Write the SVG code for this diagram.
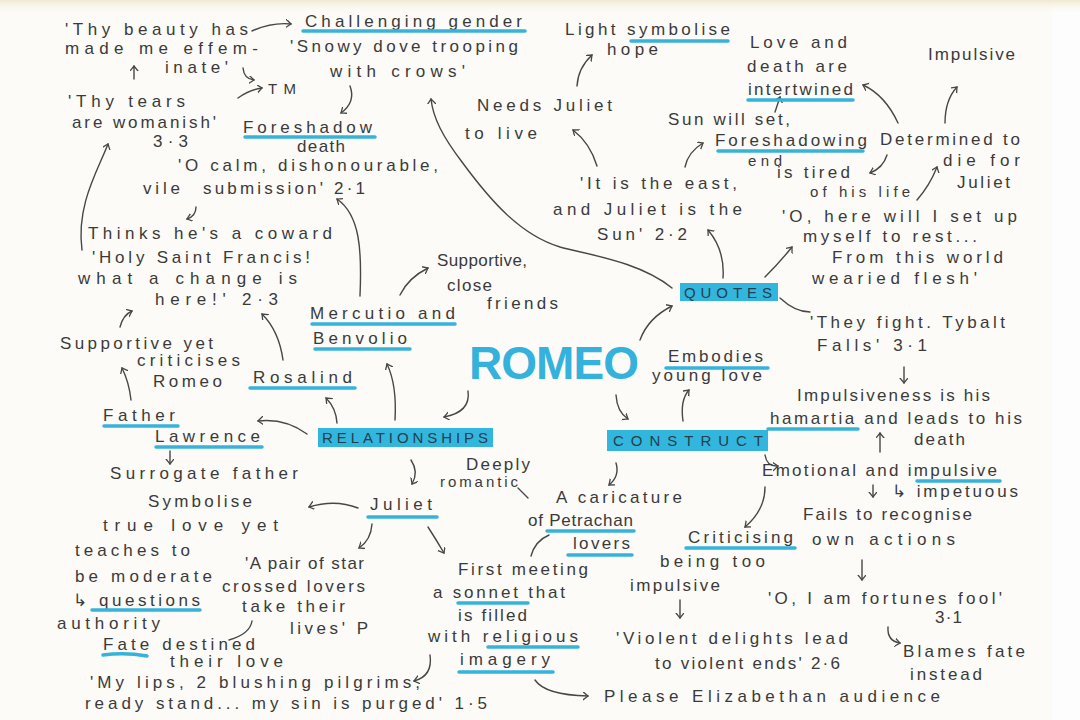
<svg xmlns="http://www.w3.org/2000/svg" width="1080" height="720" viewBox="0 0 1080 720">
<defs>
<style>
.t{font-family:"Liberation Sans","DejaVu Sans",sans-serif;font-size:17px;fill:#3a3a3a}
.s{font-size:15px}
.u{stroke:#36b3da;stroke-width:3.5;stroke-linecap:round;fill:none}
.hl{fill:#33b6dd}
.ht{font-family:"Liberation Sans","DejaVu Sans",sans-serif;font-size:15px;fill:#24404d}
.c{stroke:#474747;stroke-width:1.4;fill:none;stroke-linecap:round;marker-end:url(#ah)}
.c0{stroke:#474747;stroke-width:1.4;fill:none;stroke-linecap:round}
</style>
<marker id="ah" markerWidth="10" markerHeight="10" refX="5" refY="4" orient="auto" markerUnits="userSpaceOnUse"><path d="M0,0 L5,4 L0,8" fill="none" stroke="#474747" stroke-width="1.3" stroke-linecap="round"/></marker>
<linearGradient id="top" x1="0" y1="0" x2="0" y2="1"><stop offset="0" stop-color="#f1e9cf"/><stop offset="1" stop-color="#fcfbf8" stop-opacity="0"/></linearGradient>
</defs>
<rect width="1080" height="720" fill="#fdfdfd"/>
<rect width="1052" height="720" fill="#fcfbf8"/>
<rect width="1080" height="14" fill="url(#top)"/>

<g id="connectors">
<path class="c" d="M252,31 Q272,22 291,24"/>
<path class="c" d="M134,79 L134,66"/>
<path class="c" d="M243,68 Q244,79 254,80"/>
<path class="c" d="M238,98 Q249,90 262,88"/>
<path class="c" d="M350,86 Q356,102 341,113"/>
<path class="c" d="M196,207 Q196,216 187,219"/>
<path class="c" d="M82,250 C76,205 98,170 108,144"/>
<path class="c" d="M360,296 C362,250 360,215 337,199"/>
<path class="c" d="M120,327 Q123,315 132,311"/>
<path class="c" d="M131,400 Q129,382 122,368"/>
<path class="c" d="M283,360 Q279,331 262,314"/>
<path class="c" d="M337,423 Q336,408 326,398"/>
<path class="c" d="M395,420 Q397,385 387,364"/>
<path class="c" d="M307,434 Q285,418 258,421"/>
<path class="c" d="M468,391 Q471,412 444,417"/>
<path class="c" d="M400,295 Q408,278 428,268"/>
<path class="c" d="M170,451 L170,464"/>
<path class="c" d="M358,508 Q335,499 309,507"/>
<path class="c" d="M411,460 Q419,472 412,484"/>
<path class="c" d="M372,524 Q371,540 359,548"/>
<path class="c" d="M428,527 Q437,541 444,553"/>
<path class="c0" d="M252,621 Q250,634 229,640"/>
<path class="c" d="M430,655 Q433,676 414,681"/>
<path class="c0" d="M518,488 L528,498"/>
<path class="c0" d="M549,535 Q535,541 531,556"/>
<path class="c" d="M616,463 Q620,476 609,485"/>
<path class="c" d="M616,395 Q617,412 628,419"/>
<path class="c" d="M683,421 Q680,400 689,390"/>
<path class="c" d="M640,340 Q648,318 672,306"/>
<path class="c" d="M672,288 C640,262 590,255 560,247 C520,235 490,200 462,162 C443,137 433,118 431,99"/>
<path class="c" d="M723,278 Q725,250 708,230"/>
<path class="c" d="M765,277 Q780,262 792,247"/>
<path class="c0" d="M780,298 Q795,312 810,312"/>
<path class="c" d="M597,166 Q590,143 573,130"/>
<path class="c" d="M577,86 Q578,68 592,55"/>
<path class="c" d="M685,167 Q688,152 703,143"/>
<path class="c" d="M775,112 L780,97"/>
<path class="c" d="M898,123 Q885,95 863,85"/>
<path class="c" d="M945,123 Q945,100 957,87"/>
<path class="c" d="M887,155 Q883,168 870,173"/>
<path class="c" d="M917,200 Q930,185 937,167"/>
<path class="c" d="M904,367 L904,383"/>
<path class="c" d="M880,452 L880,433"/>
<path class="c" d="M765,455 Q767,467 778,466"/>
<path class="c" d="M765,487 Q765,510 745,527"/>
<path class="c" d="M873,485 L873,497"/>
<path class="c" d="M862,560 L862,580"/>
<path class="c" d="M888,627 Q887,641 900,643"/>
<path class="c" d="M680,600 L680,618"/>
<path class="c" d="M535,680 Q545,695 588,696"/>
</g>

<g id="romeo">
<text x="469" y="379" textLength="170" lengthAdjust="spacing" style="font-family:'Liberation Sans',sans-serif;font-size:46px;font-weight:bold;fill:#34b2dc">ROMEO</text>
</g>

<g id="relationships">
<rect class="hl" x="318" y="428" width="175" height="19"/>
<text class="ht" x="322" y="443" textLength="166" lengthAdjust="spacing">RELATIONSHIPS</text>
</g>
<g id="construct">
<rect class="hl" x="607" y="430" width="161" height="21"/>
<text class="ht" x="613" y="446" textLength="150" lengthAdjust="spacing">CONSTRUCT</text>
</g>
<g id="quotes">
<rect class="hl" x="680" y="283" width="98" height="18"/>
<text class="ht" x="684" y="298" textLength="88" lengthAdjust="spacing">QUOTES</text>
</g>

<g id="effeminate">
<text class="t" x="65" y="35" textLength="183" lengthAdjust="spacing">'Thy beauty has</text>
<text class="t" x="65" y="54" textLength="193" lengthAdjust="spacing">made me effem-</text>
<text class="t" x="165" y="73" textLength="63" lengthAdjust="spacing">inate'</text>
<text class="t s" x="268" y="94" textLength="28" lengthAdjust="spacing">TM</text>
</g>
<g id="gender">
<text class="t" x="305" y="27" textLength="217" lengthAdjust="spacing">Challenging gender</text>
<path class="u" d="M303,31 L525,31"/>
<text class="t" x="290" y="52" textLength="228" lengthAdjust="spacing">'Snowy dove trooping</text>
<text class="t" x="330" y="77" textLength="135" lengthAdjust="spacing">with crows'</text>
</g>
<g id="tears">
<text class="t" x="68" y="107" textLength="117" lengthAdjust="spacing">'Thy tears</text>
<text class="t" x="72" y="128" textLength="144" lengthAdjust="spacing">are womanish'</text>
<text class="t" x="153" y="147" textLength="35" lengthAdjust="spacing">3·3</text>
</g>
<g id="foreshadow">
<text class="t" x="243" y="133" textLength="129" lengthAdjust="spacing">Foreshadow</text>
<path class="u" d="M245,137 L375,137"/>
<text class="t" x="297" y="152" textLength="48" lengthAdjust="spacing">death</text>
</g>
<g id="calm">
<text class="t" x="178" y="171" textLength="260" lengthAdjust="spacing">'O calm, dishonourable,</text>
<text class="t" x="143" y="194" textLength="37" lengthAdjust="spacing">vile</text>
<text class="t" x="203" y="194" textLength="162" lengthAdjust="spacing">submission' 2·1</text>
</g>
<g id="coward">
<text class="t" x="88" y="239" textLength="244" lengthAdjust="spacing">Thinks he's a coward</text>
</g>
<g id="francis">
<text class="t" x="92" y="263" textLength="218" lengthAdjust="spacing">'Holy Saint Francis!</text>
<text class="t" x="78" y="284" textLength="219" lengthAdjust="spacing">what a change is</text>
<text class="t" x="155" y="305" textLength="123" lengthAdjust="spacing">here!' 2·3</text>
</g>
<g id="supportive-yet">
<text class="t" x="60" y="349" textLength="153" lengthAdjust="spacing">Supportive yet</text>
<text class="t" x="137" y="366" textLength="103" lengthAdjust="spacing">criticises</text>
<text class="t" x="153" y="387" textLength="69" lengthAdjust="spacing">Romeo</text>
</g>
<g id="father-lawrence">
<text class="t" x="103" y="421" textLength="72" lengthAdjust="spacing">Father</text>
<path class="u" d="M104,426 L178,426"/>
<text class="t" x="155" y="442" textLength="105" lengthAdjust="spacing">Lawrence</text>
<path class="u" d="M156,447 L262,447"/>
</g>
<g id="rosalind">
<text class="t" x="253" y="383" textLength="99" lengthAdjust="spacing">Rosalind</text>
<path class="u" d="M250,388 L355,388"/>
</g>
<g id="mercutio">
<text class="t" x="310" y="319" textLength="145" lengthAdjust="spacing">Mercutio and</text>
<path class="u" d="M312,324 L455,324"/>
<text class="t" x="313" y="344" textLength="94" lengthAdjust="spacing">Benvolio</text>
<path class="u" d="M315,349 L410,349"/>
</g>
<g id="friends">
<text class="t" x="437" y="266" textLength="90" lengthAdjust="spacing">Supportive,</text>
<text class="t" x="447" y="291" textLength="45" lengthAdjust="spacing">close</text>
<text class="t" x="487" y="309" textLength="71" lengthAdjust="spacing">friends</text>
</g>
<g id="surrogate">
<text class="t" x="110" y="479" textLength="188" lengthAdjust="spacing">Surrogate father</text>
<text class="t" x="148" y="507" textLength="104" lengthAdjust="spacing">Symbolise</text>
<text class="t" x="103" y="531" textLength="175" lengthAdjust="spacing">true love yet</text>
<text class="t" x="75" y="556" textLength="115" lengthAdjust="spacing">teaches to</text>
<text class="t" x="75" y="582" textLength="137" lengthAdjust="spacing">be moderate</text>
<text class="t" x="73" y="606" textLength="127" lengthAdjust="spacing">↳ questions</text>
<path class="u" d="M92,610 L200,610"/>
<text class="t" x="57" y="629" textLength="103" lengthAdjust="spacing">authority</text>
</g>
<g id="juliet">
<text class="t" x="370" y="510" textLength="62" lengthAdjust="spacing">Juliet</text>
<path class="u" d="M368,517 L437,517"/>
</g>
<g id="star-crossed">
<text class="t" x="245" y="569" textLength="119" lengthAdjust="spacing">'A pair of star</text>
<text class="t" x="222" y="592" textLength="143" lengthAdjust="spacing">crossed lovers</text>
<text class="t" x="242" y="612" textLength="103" lengthAdjust="spacing">take their</text>
<text class="t" x="290" y="634" textLength="78" lengthAdjust="spacing">lives' P</text>
</g>
<g id="fate">
<text class="t" x="103" y="650" textLength="152" lengthAdjust="spacing">Fate destined</text>
<path class="u" d="M103,655 Q125,652 147,656"/>
<text class="t" x="170" y="667" textLength="113" lengthAdjust="spacing">their love</text>
</g>
<g id="lips">
<text class="t" x="90" y="688" textLength="330" lengthAdjust="spacing">'My lips, 2 blushing pilgrims,</text>
<text class="t" x="85" y="709" textLength="402" lengthAdjust="spacing">ready stand... my sin is purged' 1·5</text>
</g>
<g id="deeply">
<text class="t" x="466" y="470" textLength="64" lengthAdjust="spacing">Deeply</text>
<text class="t s" x="440" y="487" textLength="78" lengthAdjust="spacing">romantic</text>
</g>
<g id="first-meeting">
<text class="t" x="458" y="575" textLength="130" lengthAdjust="spacing">First meeting</text>
<text class="t" x="433" y="598" textLength="132" lengthAdjust="spacing">a sonnet that</text>
<path class="u" d="M458,603 L528,603"/>
<text class="t" x="458" y="621" textLength="69" lengthAdjust="spacing">is filled</text>
<text class="t" x="428" y="642" textLength="150" lengthAdjust="spacing">with religious</text>
<path class="u" d="M488,647 L578,647"/>
<text class="t" x="460" y="665" textLength="90" lengthAdjust="spacing">imagery</text>
<path class="u" d="M459,672 L553,672"/>
</g>
<g id="please">
<text class="t" x="604" y="702" textLength="336" lengthAdjust="spacing">Please Elizabethan audience</text>
</g>
<g id="caricature">
<text class="t" x="556" y="503" textLength="126" lengthAdjust="spacing">A caricature</text>
<text class="t" x="528" y="526" textLength="105" lengthAdjust="spacing">of Petrachan</text>
<path class="u" d="M547,531 L634,531"/>
<text class="t" x="573" y="549" textLength="57" lengthAdjust="spacing">lovers</text>
<path class="u" d="M568,555 L632,555"/>
</g>
<g id="embodies">
<text class="t" x="668" y="362" textLength="95" lengthAdjust="spacing">Embodies</text>
<path class="u" d="M666,368 L768,368"/>
<text class="t" x="652" y="381" textLength="110" lengthAdjust="spacing">young love</text>
</g>
<g id="emotional">
<text class="t" x="762" y="476" textLength="235" lengthAdjust="spacing">Emotional and impulsive</text>
<path class="u" d="M917,481 L1000,481"/>
<text class="t" x="892" y="497" textLength="126" lengthAdjust="spacing">↳ impetuous</text>
</g>
<g id="fails">
<text class="t" x="803" y="520" textLength="169" lengthAdjust="spacing">Fails to recognise</text>
<text class="t" x="812" y="545" textLength="143" lengthAdjust="spacing">own actions</text>
</g>
<g id="criticising">
<text class="t" x="688" y="543" textLength="105" lengthAdjust="spacing">Criticising</text>
<path class="u" d="M686,548 L795,548"/>
<text class="t" x="660" y="567" textLength="105" lengthAdjust="spacing">being too</text>
<text class="t" x="630" y="591" textLength="90" lengthAdjust="spacing">impulsive</text>
</g>
<g id="violent">
<text class="t" x="616" y="644" textLength="232" lengthAdjust="spacing">'Violent delights lead</text>
<text class="t" x="655" y="669" textLength="185" lengthAdjust="spacing">to violent ends' 2·6</text>
</g>
<g id="fortunes-fool">
<text class="t" x="768" y="604" textLength="234" lengthAdjust="spacing">'O, I am fortunes fool'</text>
<text class="t" x="935" y="623" textLength="27" lengthAdjust="spacing">3·1</text>
</g>
<g id="blames">
<text class="t" x="903" y="657" textLength="122" lengthAdjust="spacing">Blames fate</text>
<text class="t" x="910" y="680" textLength="72" lengthAdjust="spacing">instead</text>
</g>
<g id="light">
<text class="t" x="565" y="35" textLength="165" lengthAdjust="spacing">Light symbolise</text>
<path class="u" d="M631,41 L728,41"/>
<text class="t" x="607" y="55" textLength="51" lengthAdjust="spacing">hope</text>
</g>
<g id="needs-juliet">
<text class="t" x="477" y="111" textLength="135" lengthAdjust="spacing">Needs Juliet</text>
<text class="t" x="465" y="139" textLength="72" lengthAdjust="spacing">to live</text>
</g>
<g id="east">
<text class="t" x="580" y="189" textLength="157" lengthAdjust="spacing">'It is the east,</text>
<text class="t" x="553" y="215" textLength="189" lengthAdjust="spacing">and Juliet is the</text>
<text class="t" x="597" y="240" textLength="90" lengthAdjust="spacing">Sun' 2·2</text>
</g>
<g id="love-death">
<text class="t" x="750" y="48" textLength="97" lengthAdjust="spacing">Love and</text>
<text class="t" x="747" y="72" textLength="100" lengthAdjust="spacing">death are</text>
<text class="t" x="748" y="95" textLength="105" lengthAdjust="spacing">intertwined</text>
<path class="u" d="M748,100 L853,100"/>
</g>
<g id="sun-set">
<text class="t" x="668" y="125" textLength="122" lengthAdjust="spacing">Sun will set,</text>
<text class="t" x="715" y="146" textLength="152" lengthAdjust="spacing">Foreshadowing</text>
<path class="u" d="M718,151 L863,151"/>
<text class="t s" x="748" y="166" textLength="34" lengthAdjust="spacing">end</text>
</g>
<g id="tired">
<text class="t" x="777" y="178" textLength="73" lengthAdjust="spacing">is tired</text>
<text class="t s" x="810" y="197" textLength="100" lengthAdjust="spacing">of his life</text>
</g>
<g id="impulsive-top">
<text class="t" x="928" y="60" textLength="87" lengthAdjust="spacing">Impulsive</text>
</g>
<g id="determined">
<text class="t" x="880" y="145" textLength="140" lengthAdjust="spacing">Determined to</text>
<text class="t" x="943" y="166" textLength="77" lengthAdjust="spacing">die for</text>
<text class="t" x="957" y="188" textLength="53" lengthAdjust="spacing">Juliet</text>
</g>
<g id="here-rest">
<text class="t" x="782" y="222" textLength="235" lengthAdjust="spacing">'O, here will I set up</text>
<text class="t" x="803" y="242" textLength="174" lengthAdjust="spacing">myself to rest...</text>
<text class="t" x="832" y="263" textLength="171" lengthAdjust="spacing">From this world</text>
<text class="t" x="812" y="284" textLength="165" lengthAdjust="spacing">wearied flesh'</text>
</g>
<g id="tybalt">
<text class="t" x="810" y="328" textLength="195" lengthAdjust="spacing">'They fight. Tybalt</text>
<text class="t" x="817" y="351" textLength="110" lengthAdjust="spacing">Falls' 3·1</text>
</g>
<g id="hamartia">
<text class="t" x="797" y="401" textLength="193" lengthAdjust="spacing">Impulsiveness is his</text>
<text class="t" x="770" y="424" textLength="252" lengthAdjust="spacing">hamartia and leads to his</text>
<path class="u" d="M768,429 L858,429"/>
<text class="t" x="914" y="445" textLength="51" lengthAdjust="spacing">death</text>
</g>
</svg>
